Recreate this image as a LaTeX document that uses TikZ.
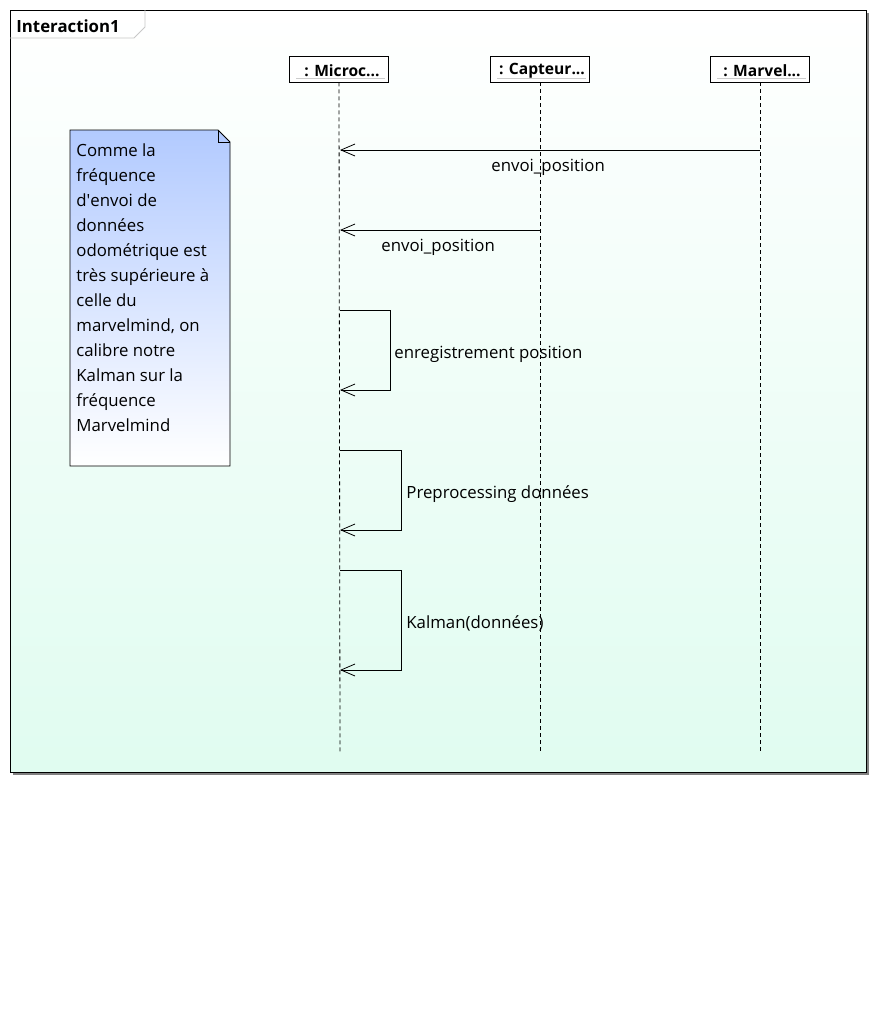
\documentclass[tikz,border=0pt]{standalone}
\usepackage{fontspec}
\setmainfont{Open Sans}
\usetikzlibrary{arrows.meta,positioning}
\definecolor{framebot}{RGB}{224,252,240}
\definecolor{notetop}{RGB}{178,202,255}
\definecolor{tabline}{RGB}{200,200,200}
\begin{document}
\begin{tikzpicture}[x=1pt, y=-1pt, line width=0.8pt,
  font=\fontsize{16.8}{20}\selectfont,
  head/.style = {draw, fill=white, minimum width=99pt, minimum height=26pt, inner sep=0pt, font=\fontsize{15.6}{20}\selectfont\bfseries},
  life/.style = {dash pattern=on 4pt off 3pt},
  msg/.style = {-{Straight Barb[length=14pt,width=12pt]}},
  lbl/.style = {inner sep=0pt, anchor=west}]
\useasboundingbox (0,0) rectangle (877,1020);
% frame
\fill[black!50] (13,13) rectangle (869,775);
\draw[top color=white, bottom color=framebot] (10,10) rectangle (866,772);
\draw[tabline] (10,38) -- (134,38) -- (145,27) -- (145,10);
\node[anchor=west, inner sep=0pt, font=\fontsize{16.8}{20}\selectfont\bfseries] (title) at (16,26) {Interaction1};

% heads
\node[head] (micro) at (339,69) {};
\node[head] (capt) at (540,69) {};
\node[head] (marv) at (760,69) {};
\node[inner sep=0pt, font=\fontsize{15.6}{20}\selectfont\bfseries] at (342,71) {: Microc...};
\node[inner sep=0pt, font=\fontsize{15.6}{20}\selectfont\bfseries] at (542,71) {: Capteur...};
\node[inner sep=0pt, font=\fontsize{15.6}{20}\selectfont\bfseries] at (762,71) {: Marvel...};
\foreach \h in {micro, capt, marv}
  \draw[black!20, line width=0.6pt] ([shift={(7,-4)}]\h.south west) -- ([shift={(-4,-4)}]\h.south east);

% lifelines
\coordinate (microend) at (340,752);
\coordinate (captend) at (540,752);
\coordinate (marvend) at (760,752);
\draw[life] (micro.south) -- (microend);
\draw[life] (capt.south) -- (captend);
\draw[life] (marv.south) -- (marvend);

% note
\draw[top color=notetop, bottom color=white] (70,130) -- (218,130) -- (230,142) -- (230,466) -- (70,466) -- cycle;
\draw (218,130) -- (218,142) -- (230,142);
\node[anchor=north west, inner sep=0pt, align=left, font=\fontsize{16.8}{25}\selectfont] (note) at (76,143)
  {Comme la\\fréquence\\d\textquotesingle envoi de\\données\\odométrique est\\très supérieure à\\celle du\\marvelmind, on\\calibre notre\\Kalman sur la\\fréquence\\Marvelmind};

% messages
\coordinate (m1a) at (760,150);
\coordinate (m1b) at (340,150);
\coordinate (m2a) at (540,230);
\coordinate (m2b) at (340,230);
\coordinate (m3a) at (340,310);
\coordinate (m3b) at (340,390);
\coordinate (m4a) at (340,450);
\coordinate (m4b) at (340,530);
\coordinate (m5a) at (340,570);
\coordinate (m5b) at (340,670);

\draw[msg] (m1a) -- (m1b);
\node[lbl] (l1) at (491,167) {envoi\_position};
\draw[msg] (m2a) -- (m2b);
\node[lbl] (l2) at (381,247) {envoi\_position};
\draw[msg] (m3a) -- ++(50,0) |- (m3b);
\node[lbl] (l3) at (394,354) {enregistrement position};
\draw[msg] (m4a) -- ++(61,0) |- (m4b);
\node[lbl] (l4) at (406,494) {Preprocessing données};
\draw[msg] (m5a) -- ++(61,0) |- (m5b);
\node[lbl] (l5) at (406,623) {Kalman(données)};
\end{tikzpicture}
\end{document}
